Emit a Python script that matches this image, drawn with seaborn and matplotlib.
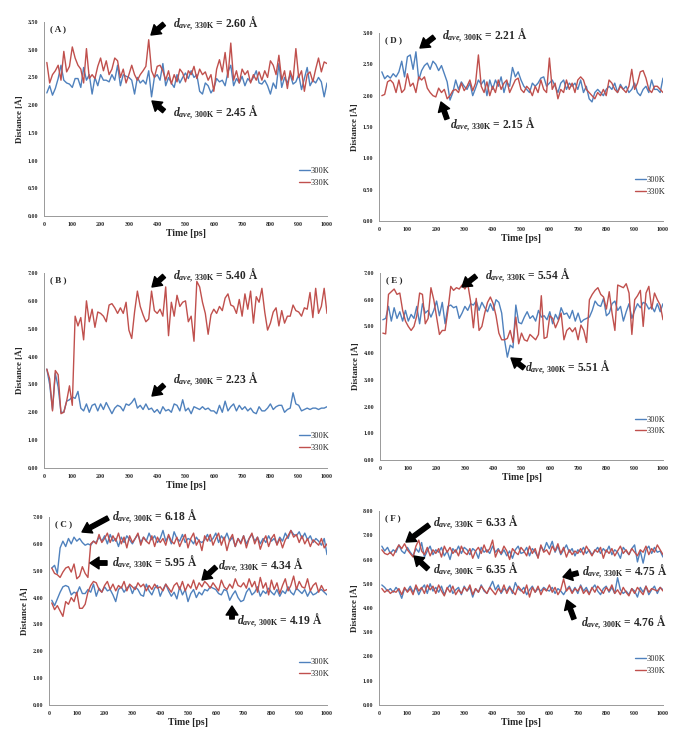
import matplotlib
matplotlib.use("Agg")
import matplotlib.pyplot as plt
from matplotlib.patches import FancyArrowPatch
import seaborn as sns
import numpy as np

# ---------------- data ----------------
time = list(range(10, 1001, 10))

A_300 = [2.22, 2.35, 2.18, 2.30, 2.48, 2.72, 2.45, 2.40, 2.38, 2.32,
         2.48, 2.48, 2.32, 2.68, 2.45, 2.55, 2.20, 2.50, 2.35, 2.55,
         2.45, 2.45, 2.42, 2.55, 2.45, 2.72, 2.35, 2.55, 2.52, 2.50,
         2.45, 2.20, 2.50, 2.40, 2.45, 2.38, 2.62, 2.15, 2.50, 2.55,
         2.45, 2.75, 2.35, 2.50, 2.40, 2.32, 2.55, 2.40, 2.50, 2.58,
         2.48, 2.62, 2.50, 2.55, 2.25, 2.20, 2.40, 2.35, 2.22, 2.30,
         2.48, 2.42, 2.45, 2.35, 2.60, 2.72, 2.35, 2.48, 2.40, 2.52,
         2.35, 2.48, 2.42, 2.50, 2.62, 2.40, 2.38, 2.45, 2.35, 2.20,
         2.40, 2.30, 2.75, 2.32, 2.50, 2.40, 2.55, 2.38, 2.42, 2.55,
         2.28, 2.48, 2.68, 2.35, 2.45, 2.40, 2.50, 2.42, 2.15, 2.40]
A_330 = [2.77, 2.40, 2.55, 2.62, 2.72, 2.45, 2.97, 2.60, 2.70, 3.05,
         2.85, 2.72, 2.65, 2.40, 3.02, 2.48, 2.55, 2.48, 2.70, 2.85,
         2.62, 2.80, 2.55, 2.65, 2.85, 2.80, 2.50, 2.65, 2.40, 2.55,
         2.72, 2.55, 2.45, 2.55, 2.62, 2.70, 3.18, 2.62, 2.50, 2.70,
         2.72, 2.62, 2.45, 2.62, 2.38, 2.55, 2.42, 2.65, 2.58, 2.42,
         2.62, 2.55, 2.70, 2.48, 2.65, 2.55, 2.60, 2.45, 2.55, 2.25,
         2.65, 2.82, 2.60, 2.95, 2.50, 3.12, 2.45, 2.62, 2.40, 2.65,
         2.55, 2.62, 2.40, 2.55, 2.45, 2.60, 2.45, 2.62, 2.50, 2.80,
         2.72, 2.55, 2.90, 2.45, 2.62, 2.30, 2.62, 2.45, 3.02, 2.50,
         2.62, 2.25, 2.55, 2.60, 2.42, 2.65, 2.85, 2.60, 2.78, 2.75]

B_300 = [3.55, 3.00, 2.10, 3.40, 2.90, 2.00, 2.00, 2.40, 2.45, 2.55,
         2.50, 2.75, 2.15, 2.05, 2.30, 2.00, 2.25, 2.30, 2.05, 2.30,
         2.10, 2.35, 2.15, 1.95, 2.15, 2.25, 2.20, 2.05, 2.30, 2.25,
         2.35, 2.50, 2.15, 2.25, 2.10, 2.30, 2.10, 2.15, 2.00, 2.10,
         1.95, 2.20, 2.05, 2.10, 2.00, 2.30, 2.25, 2.05, 2.45, 2.05,
         2.15, 1.95, 2.20, 2.15, 2.10, 2.20, 2.10, 2.15, 2.05, 2.05,
         1.95, 2.25, 2.00, 2.40, 2.05, 2.20, 2.30, 2.05, 2.25, 2.10,
         2.20, 2.05, 2.15, 2.00, 1.95, 2.20, 2.05, 2.05, 2.15, 2.30,
         2.10, 2.20, 2.25, 2.25, 2.00, 2.10, 2.15, 2.70, 2.30, 2.25,
         2.05, 2.10, 2.15, 2.10, 2.15, 2.15, 2.10, 2.15, 2.15, 2.20]
B_330 = [3.55, 3.20, 2.05, 3.50, 3.35, 1.95, 2.00, 2.40, 2.95, 2.25,
         5.45, 5.10, 5.40, 4.60, 6.00, 5.25, 5.70, 5.05, 5.60, 5.55,
         5.45, 5.25, 5.85, 5.90, 5.75, 5.55, 5.75, 5.55, 5.95, 4.95,
         4.65, 5.60, 6.35, 5.80, 5.50, 5.25, 5.35, 6.35, 5.65, 5.55,
         5.70, 5.45, 6.50, 4.75, 5.95, 5.45, 6.20, 5.80, 5.95, 6.00,
         5.25, 5.45, 4.55, 6.70, 6.50, 5.95, 5.55, 4.80, 5.50, 5.70,
         5.55, 5.80, 5.65, 6.10, 6.25, 5.85, 5.80, 5.55, 6.05, 5.45,
         6.25, 5.70, 6.35, 5.20, 6.15, 5.95, 6.45, 5.60, 4.95, 5.20,
         5.60, 5.75, 5.10, 5.65, 5.20, 5.45, 5.45, 5.85, 5.65, 5.60,
         5.45, 5.75, 5.70, 6.30, 5.40, 6.45, 5.55, 5.80, 6.45, 5.55]

C_300_hi = [5.10, 5.20, 4.90, 5.85, 6.10, 5.90, 6.20, 6.00, 6.25, 6.10,
            6.20, 6.05, 5.95, 6.00, 5.95, 6.10, 6.05, 6.25, 6.10, 6.30,
            6.00, 6.35, 6.10, 6.20, 5.90, 6.25, 6.05, 6.30, 6.15, 6.00,
            6.20, 6.35, 6.05, 6.25, 6.10, 6.40, 6.15, 6.30, 6.05, 6.20,
            6.50, 6.10, 6.30, 6.00, 6.45, 6.20, 6.10, 6.35, 6.05, 6.20,
            6.15, 6.00, 6.25, 6.10, 6.05, 6.15, 6.35, 6.10, 6.20, 6.40,
            6.05, 6.30, 6.15, 6.40, 6.10, 6.25, 5.90, 6.20, 6.05, 6.30,
            6.00, 6.20, 6.35, 6.10, 6.25, 6.00, 6.20, 6.05, 6.30, 6.10,
            6.20, 6.00, 6.25, 6.10, 6.40, 6.20, 6.50, 6.35, 6.30, 6.45,
            6.20, 6.40, 6.15, 6.30, 6.05, 6.20, 6.10, 5.95, 6.20, 5.60]
C_330_hi = [5.10, 4.90, 4.85, 4.75, 4.95, 5.10, 5.15, 4.95, 5.25, 4.70,
            4.80, 5.15, 4.90, 4.75, 6.00, 6.10, 6.00, 6.35, 6.05, 6.20,
            6.40, 6.05, 6.30, 6.10, 6.40, 6.00, 6.25, 5.85, 6.30, 6.05,
            6.20, 6.40, 5.95, 6.25, 6.10, 6.00, 6.30, 5.90, 6.25, 6.05,
            6.20, 5.95, 6.35, 6.10, 6.00, 6.25, 5.90, 6.15, 6.35, 5.85,
            6.20, 6.40, 5.95, 6.15, 5.75, 6.30, 6.10, 6.35, 5.95, 6.20,
            6.40, 5.95, 6.25, 5.75, 6.15, 6.35, 5.90, 6.20, 6.00, 6.30,
            5.85, 6.20, 6.40, 6.00, 6.25, 5.80, 6.10, 6.30, 5.90, 6.20,
            6.35, 5.95, 6.20, 5.85, 6.15, 6.30, 6.50, 6.25, 6.35, 6.05,
            6.30, 6.00, 6.20, 5.90, 6.15, 6.05, 5.95, 6.20, 5.85, 6.00]
C_300_lo = [3.90, 3.70, 3.95, 4.20, 4.40, 4.45, 4.40, 4.10, 4.20, 4.15,
            4.40, 4.15, 4.15, 4.30, 4.20, 4.50, 4.05, 4.35, 4.20, 4.40,
            4.25, 4.30, 4.10, 3.85, 4.30, 4.40, 4.20, 4.35, 4.45, 4.15,
            4.40, 4.30, 4.10, 4.05, 4.50, 4.25, 4.10, 4.35, 4.45, 4.05,
            4.30, 4.50, 4.25, 4.05, 4.20, 3.95, 4.40, 4.10, 4.30, 3.85,
            4.15, 4.30, 4.00, 4.20, 4.10, 4.30, 4.25, 4.40, 4.35, 4.30,
            4.15, 4.10, 4.30, 4.25, 3.90, 4.10, 4.25, 4.00, 3.85, 3.90,
            4.20, 4.35, 4.10, 4.20, 4.40, 4.05, 4.25, 4.15, 4.35, 4.20,
            4.10, 4.30, 4.05, 4.25, 4.15, 4.40, 4.20, 4.10, 4.35, 4.25,
            4.15, 4.30, 4.05, 4.25, 4.10, 4.15, 4.25, 4.30, 4.20, 4.10]
C_330_lo = [3.80, 3.55, 3.70, 3.50, 3.30, 3.85, 3.75, 4.00, 3.85, 4.20,
            3.60, 3.60, 3.75, 4.20, 4.45, 4.60, 4.55, 4.30, 4.20, 4.45,
            4.60, 4.30, 4.50, 4.25, 4.45, 4.35, 4.60, 4.25, 4.50, 4.40,
            4.30, 4.55, 4.40, 4.50, 4.25, 4.45, 4.30, 4.50, 4.35, 4.40,
            4.25, 4.50, 4.35, 4.20, 4.45, 4.55, 4.30, 4.60, 4.25, 4.50,
            4.35, 4.65, 4.30, 4.55, 4.40, 4.60, 4.50, 4.35, 4.55, 4.40,
            4.25, 4.65, 4.40, 4.30, 4.50, 4.35, 4.70, 4.45, 4.40, 4.55,
            4.35, 4.70, 4.40, 4.60, 4.20, 4.75, 4.35, 4.55, 4.10, 4.65,
            4.30, 4.55, 4.15, 4.45, 4.70, 4.25, 4.45, 4.80, 4.30, 4.60,
            4.40, 4.35, 4.70, 4.25, 4.45, 4.55, 4.20, 4.45, 4.25, 4.30]

D_300 = [2.38, 2.27, 2.32, 2.28, 2.35, 2.30, 2.38, 2.55, 2.30, 2.62,
         2.65, 2.42, 2.70, 2.25, 2.40, 2.48, 2.52, 2.42, 2.55, 2.50,
         2.40, 2.48, 2.35, 2.22, 1.93, 2.05, 2.25, 2.10, 2.22, 2.15,
         2.10, 2.20, 2.00, 2.12, 2.25, 2.18, 2.25, 2.00, 2.25, 2.10,
         2.25, 2.15, 2.30, 2.05, 2.22, 2.15, 2.45, 2.30, 2.38, 2.25,
         2.15, 2.10, 2.05, 2.20, 2.15, 2.20, 2.28, 2.30, 2.15, 2.20,
         2.25, 2.15, 2.05, 2.20, 2.25, 2.10, 2.20, 2.15, 2.20, 2.10,
         2.25, 2.05, 2.15, 1.95, 1.90, 2.05, 2.10, 2.05, 2.00, 2.10,
         2.15, 2.10, 2.20, 2.05, 2.18, 2.10, 2.15, 2.05, 2.10, 2.20,
         2.05, 2.00, 2.10, 2.15, 2.05, 2.25, 2.10, 2.10, 2.05, 2.28]
D_330 = [2.00, 2.02, 2.22, 2.25, 2.20, 2.05, 2.25, 2.05, 2.10, 2.35,
         2.15, 2.20, 2.05, 2.30, 2.25, 2.30, 2.12, 2.05, 2.00, 1.98,
         2.12, 2.05, 2.10, 1.95, 2.00, 2.08, 2.10, 2.05, 2.20, 2.08,
         2.15, 2.25, 2.08, 2.20, 2.65, 2.15, 2.05, 2.22, 2.00, 2.15,
         2.05, 2.25, 2.10, 2.20, 2.25, 2.05, 2.15, 2.25, 2.28, 2.10,
         2.05, 2.15, 2.10, 2.00, 2.15, 2.05, 2.25, 2.10, 2.05, 2.60,
         2.10, 2.20, 1.95, 2.10, 2.05, 2.25, 2.10, 2.20, 2.05, 2.25,
         2.30, 2.25, 2.10, 2.05, 2.00, 1.95, 2.05, 2.00, 2.10, 2.00,
         2.25, 2.20, 2.10, 2.05, 2.15, 2.10, 2.05, 2.15, 2.42, 2.10,
         2.20, 2.38, 2.40, 2.28, 2.10, 2.05, 2.15, 2.15, 2.10, 2.05]

E_300 = [5.25, 5.30, 5.75, 5.20, 5.70, 5.30, 5.55, 5.20, 5.60, 5.20,
         5.45, 5.30, 5.75, 5.10, 5.85, 5.50, 5.60, 5.35, 5.60, 5.95,
         5.40, 5.90, 5.10, 5.75, 5.80, 5.70, 5.75, 5.30, 5.50, 5.75,
         5.60, 5.85, 5.80, 5.95, 5.60, 5.90, 5.70, 5.55, 5.85, 5.60,
         6.00, 5.90, 5.50, 4.50, 3.85, 4.30, 4.20, 5.80, 5.15, 5.10,
         5.35, 5.55, 5.30, 5.40, 5.20, 5.60, 5.35, 5.40, 5.25, 5.55,
         5.10, 5.45, 5.25, 5.70, 5.45, 5.50, 5.30, 5.60, 5.20, 5.50,
         5.15, 5.25, 5.30, 5.35, 5.60, 5.95, 5.80, 5.75, 6.05, 5.40,
         5.50, 5.85, 5.95, 5.60, 5.75, 5.20, 5.55, 5.85, 5.30, 5.60,
         5.85, 5.70, 5.90, 5.85, 5.65, 5.75, 5.55, 5.85, 5.55, 5.85]
E_330 = [4.75, 4.72, 6.20, 6.30, 6.40, 6.20, 6.25, 5.60, 5.20, 5.00,
         4.85, 5.00, 5.40, 6.25, 6.20, 5.10, 5.30, 6.45, 6.00, 5.35,
         4.70, 4.85, 4.85, 5.60, 6.50, 6.35, 6.45, 6.40, 6.55, 6.40,
         6.60, 5.95, 4.95, 6.05, 4.85, 5.00, 5.50, 5.90, 6.10, 5.85,
         5.40, 4.75, 4.50, 4.50, 4.55, 4.85, 4.40, 5.35, 4.35, 4.75,
         4.50, 4.45, 4.70, 4.60, 4.50, 4.70, 6.15, 4.55, 4.60, 5.40,
         5.30, 4.95, 5.20, 5.50, 4.50, 4.85, 4.95, 4.80, 4.95, 4.50,
         5.05, 4.85, 4.40, 6.00, 6.20, 6.35, 6.45, 6.20, 6.10, 5.65,
         6.30, 5.50, 4.85, 6.55, 6.50, 6.45, 6.60, 6.25, 4.70, 6.00,
         6.15, 6.35, 5.00, 6.25, 6.50, 5.65, 6.25, 6.00, 5.80, 5.25]

F_300_hi = [6.55, 6.35, 6.50, 6.25, 6.40, 6.30, 6.60, 6.35, 6.25, 6.50,
            6.30, 6.15, 6.45, 6.30, 6.70, 6.10, 6.35, 6.55, 6.20, 6.40,
            6.30, 6.50, 6.15, 6.35, 6.00, 6.45, 6.30, 6.55, 6.25, 6.50,
            6.40, 6.20, 6.45, 6.35, 6.05, 6.50, 6.30, 6.40, 6.25, 6.55,
            6.30, 6.45, 6.20, 6.40, 6.15, 6.35, 6.05, 6.40, 6.55, 6.25,
            6.30, 6.50, 6.15, 6.45, 6.30, 6.10, 6.55, 6.35, 6.70, 6.45,
            6.75, 6.30, 6.55, 6.20, 6.40, 6.60, 6.30, 6.45, 6.15, 6.40,
            6.30, 6.50, 6.25, 6.40, 6.20, 6.35, 6.50, 6.25, 6.45, 6.30,
            6.55, 6.20, 6.40, 6.30, 6.05, 6.50, 6.35, 6.20, 6.45, 6.60,
            5.90, 6.35, 5.85, 6.40, 6.55, 6.25, 6.50, 6.30, 6.35, 6.10]
F_330_hi = [6.40, 6.25, 6.20, 6.30, 6.15, 6.40, 6.60, 6.45, 6.65, 6.40,
            6.25, 6.10, 6.55, 6.80, 6.35, 6.20, 6.50, 6.15, 6.40, 6.25,
            6.45, 6.10, 6.55, 6.30, 6.50, 6.25, 6.40, 6.15, 6.55, 6.30,
            6.20, 6.45, 6.05, 6.35, 6.50, 6.25, 6.60, 6.30, 6.45, 6.80,
            6.10, 6.40, 6.25, 6.55, 6.35, 6.00, 6.45, 6.30, 6.20, 6.50,
            6.35, 6.15, 6.55, 6.25, 6.45, 6.05, 6.60, 6.30, 6.40, 6.20,
            6.55, 6.35, 6.65, 6.25, 6.50, 6.10, 6.40, 6.20, 6.35, 6.25,
            6.45, 6.20, 6.55, 6.35, 6.15, 6.40, 6.30, 6.50, 6.05, 6.40,
            6.25, 6.45, 6.15, 6.35, 6.55, 6.25, 6.40, 6.20, 6.45, 6.30,
            6.15, 6.40, 6.30, 6.55, 6.20, 6.45, 6.30, 6.60, 6.40, 6.20]
F_300_lo = [4.95, 4.85, 4.70, 4.80, 4.65, 4.85, 4.70, 4.40, 4.80, 4.70,
            4.90, 4.65, 4.85, 4.55, 4.80, 4.95, 4.60, 5.00, 4.70, 4.85,
            4.65, 4.90, 4.55, 4.80, 4.95, 4.60, 4.75, 4.85, 4.55, 4.90,
            4.70, 4.85, 4.45, 4.80, 4.65, 4.95, 4.70, 4.60, 4.85, 5.10,
            4.75, 4.95, 4.60, 4.80, 4.70, 4.90, 4.60, 5.05, 4.80, 4.70,
            4.85, 4.55, 4.75, 4.90, 4.65, 4.80, 4.70, 4.85, 4.75, 4.70,
            4.85, 4.60, 4.80, 4.70, 4.55, 4.75, 4.90, 4.65, 4.85, 4.60,
            4.95, 4.70, 4.85, 4.60, 4.80, 4.95, 4.70, 4.55, 4.80, 4.90,
            4.65, 4.85, 4.60, 5.25, 4.75, 4.60, 4.70, 4.55, 4.80, 4.70,
            4.45, 4.85, 4.65, 4.90, 4.55, 4.75, 4.90, 4.60, 4.85, 4.75]
F_330_lo = [4.80, 4.65, 4.75, 4.60, 4.70, 4.65, 4.80, 4.55, 4.85, 4.65,
            4.80, 4.55, 4.95, 4.70, 4.85, 4.60, 4.95, 4.75, 4.90, 4.60,
            4.95, 4.70, 4.50, 4.85, 4.65, 4.90, 4.55, 4.75, 4.60, 4.85,
            4.70, 4.95, 4.55, 4.80, 4.65, 4.90, 4.75, 4.60, 4.85, 4.70,
            4.55, 4.80, 4.65, 4.95, 4.60, 4.85, 4.70, 4.55, 4.90, 4.75,
            4.60, 4.95, 4.45, 4.85, 4.65, 4.90, 4.55, 4.80, 4.70, 4.95,
            4.65, 4.85, 4.55, 4.75, 5.20, 4.70, 4.85, 4.60, 4.80, 4.70,
            4.90, 4.60, 4.75, 4.55, 4.85, 4.65, 4.90, 4.75, 4.60, 4.85,
            4.70, 4.95, 4.60, 4.75, 4.55, 4.85, 4.65, 4.50, 4.80, 4.60,
            4.85, 4.70, 4.55, 4.90, 4.65, 4.80, 4.75, 4.70, 4.85, 4.70]

panel_labels = ["( A )", "( B )", "( C )", "( D )", "( E )", "( F )"]
legend_labels = ["300K", "330K"]
xticks = list(range(0, 1001, 100))

# ---------------- style ----------------
sns.set_style("white")
SERIF = "Liberation Serif"
plt.rcParams["font.family"] = [SERIF, "DejaVu Serif"]
plt.rcParams["mathtext.fontset"] = "custom"
plt.rcParams["mathtext.rm"] = "Liberation Serif:bold"
plt.rcParams["mathtext.it"] = "Liberation Serif:italic:bold"
plt.rcParams["mathtext.bf"] = "Liberation Serif:bold"

BLUE = "#4f81bd"
RED = "#c0504d"
W, H = 680, 731
fig = plt.figure(figsize=(W / 100, H / 100), dpi=100)
fig.patch.set_facecolor("white")


def make_ax(left, top, right, bottom):
    return fig.add_axes([left / W, 1 - bottom / H, (right - left) / W, (bottom - top) / H])


def style_ax(ax, ymax, ystep, label, leg_y):
    ax.set_xlim(0, 1000)
    ax.set_ylim(0, ymax)
    ax.set_xticks(xticks)
    yt = np.arange(0, ymax + 1e-9, ystep)
    ax.set_yticks(yt)
    ax.set_yticklabels([f"{v:.2f}" for v in yt])
    ax.tick_params(axis="both", labelsize=4.3, length=2, width=0.6, color="#888888", pad=2)
    for t in ax.get_xticklabels() + ax.get_yticklabels():
        t.set_fontweight("bold")
    for s in ["top", "right"]:
        ax.spines[s].set_visible(False)
    for s in ["left", "bottom"]:
        ax.spines[s].set_color("#999999")
        ax.spines[s].set_linewidth(0.7)
    ax.set_xlabel("Time [ps]", fontsize=7, fontweight="bold", labelpad=2)
    ax.set_ylabel("Distance [Å]", fontsize=6.5, fontweight="bold", labelpad=3)
    ax.text(0.02, 0.985, label, transform=ax.transAxes, fontsize=6.5, fontweight="bold",
            ha="left", va="top")
    handles, labels = ax.get_legend_handles_labels()
    ax.legend(handles[:2], labels[:2], loc="center right", bbox_to_anchor=(1.02, leg_y),
              frameon=False, fontsize=6, handlelength=1.3, handletextpad=0.1,
              labelspacing=0.45, borderaxespad=0)
    ax.grid(False)


def draw(ax, series):
    for vals, color, lab in series:
        sns.lineplot(x=time, y=vals, ax=ax, color=color, linewidth=1.0,
                     label=lab, legend=False)


axA = make_ax(44, 22, 327, 216)
draw(axA, [(A_300, BLUE, "300K"), (A_330, RED, "330K")])
style_ax(axA, 3.5, 0.5, panel_labels[0], 0.2)

axB = make_ax(44, 273, 327, 468)
draw(axB, [(B_300, BLUE, "300K"), (B_330, RED, "330K")])
style_ax(axB, 7.0, 1.0, panel_labels[1], 0.135)

axC = make_ax(49, 517, 327, 705)
draw(axC, [(C_300_hi, BLUE, "300K"), (C_330_hi, RED, "330K"),
           (C_300_lo, BLUE, None), (C_330_lo, RED, None)])
style_ax(axC, 7.0, 1.0, panel_labels[2], 0.195)

axD = make_ax(379, 33, 663, 221)
draw(axD, [(D_300, BLUE, "300K"), (D_330, RED, "330K")])
style_ax(axD, 3.0, 0.5, panel_labels[3], 0.186)

axE = make_ax(380, 273, 663, 460)
draw(axE, [(E_300, BLUE, "300K"), (E_330, RED, "330K")])
style_ax(axE, 7.0, 1.0, panel_labels[4], 0.185)

axF = make_ax(379, 511, 663, 705)
draw(axF, [(F_300_hi, BLUE, "300K"), (F_330_hi, RED, "330K"),
           (F_300_lo, BLUE, None), (F_330_lo, RED, None)])
style_ax(axF, 8.0, 1.0, panel_labels[5], 0.205)


# ---------------- annotations ----------------
def fp(x, y):
    return (x / W, 1 - y / H)


def note(temp, value, txt_xy, tail, head):
    s = r"$d_{ave,\,%s\mathrm{K}}$ = %s Å" % (temp, value)
    fig.text(*fp(*txt_xy), s, fontsize=8.3, fontweight="bold", ha="left", va="center",
             zorder=10)
    arr = FancyArrowPatch(posA=fp(*tail), posB=fp(*head), transform=fig.transFigure,
                          arrowstyle="simple,head_width=0.85,head_length=0.65,tail_width=0.32",
                          mutation_scale=10, fc="black", ec="black",
                          shrinkA=0, shrinkB=0, zorder=10)
    fig.add_artist(arr)


note("330", "2.60", (173, 24), (164, 24), (151, 35))
note("300", "2.45", (173, 113), (164, 111), (152, 101))
note("330", "5.40", (173, 276), (164, 276), (152, 287))
note("300", "2.23", (173, 380), (164, 385), (152, 396))
note("300", "6.18", (112, 517), (108, 518), (82, 532))
note("330", "5.95", (112, 563), (107, 563), (90, 563))
note("330", "4.34", (218, 566), (216, 567), (202, 580))
note("300", "4.19", (237, 621), (232, 619), (232, 606))
note("300", "2.21", (442, 36), (434, 37), (420, 48))
note("330", "2.15", (450, 125), (447, 119), (441, 102))
note("330", "5.54", (485, 276), (476, 276), (462, 287))
note("300", "5.51", (525, 368), (524, 368), (511, 358))
note("330", "6.33", (433, 523), (429, 525), (406, 542))
note("300", "6.35", (433, 570), (428, 569), (414, 556))
note("330", "4.75", (582, 572), (578, 573), (563, 577))
note("300", "4.76", (581, 623), (574, 619), (567, 600))

fig.savefig("out.png", dpi=100, facecolor="white")
